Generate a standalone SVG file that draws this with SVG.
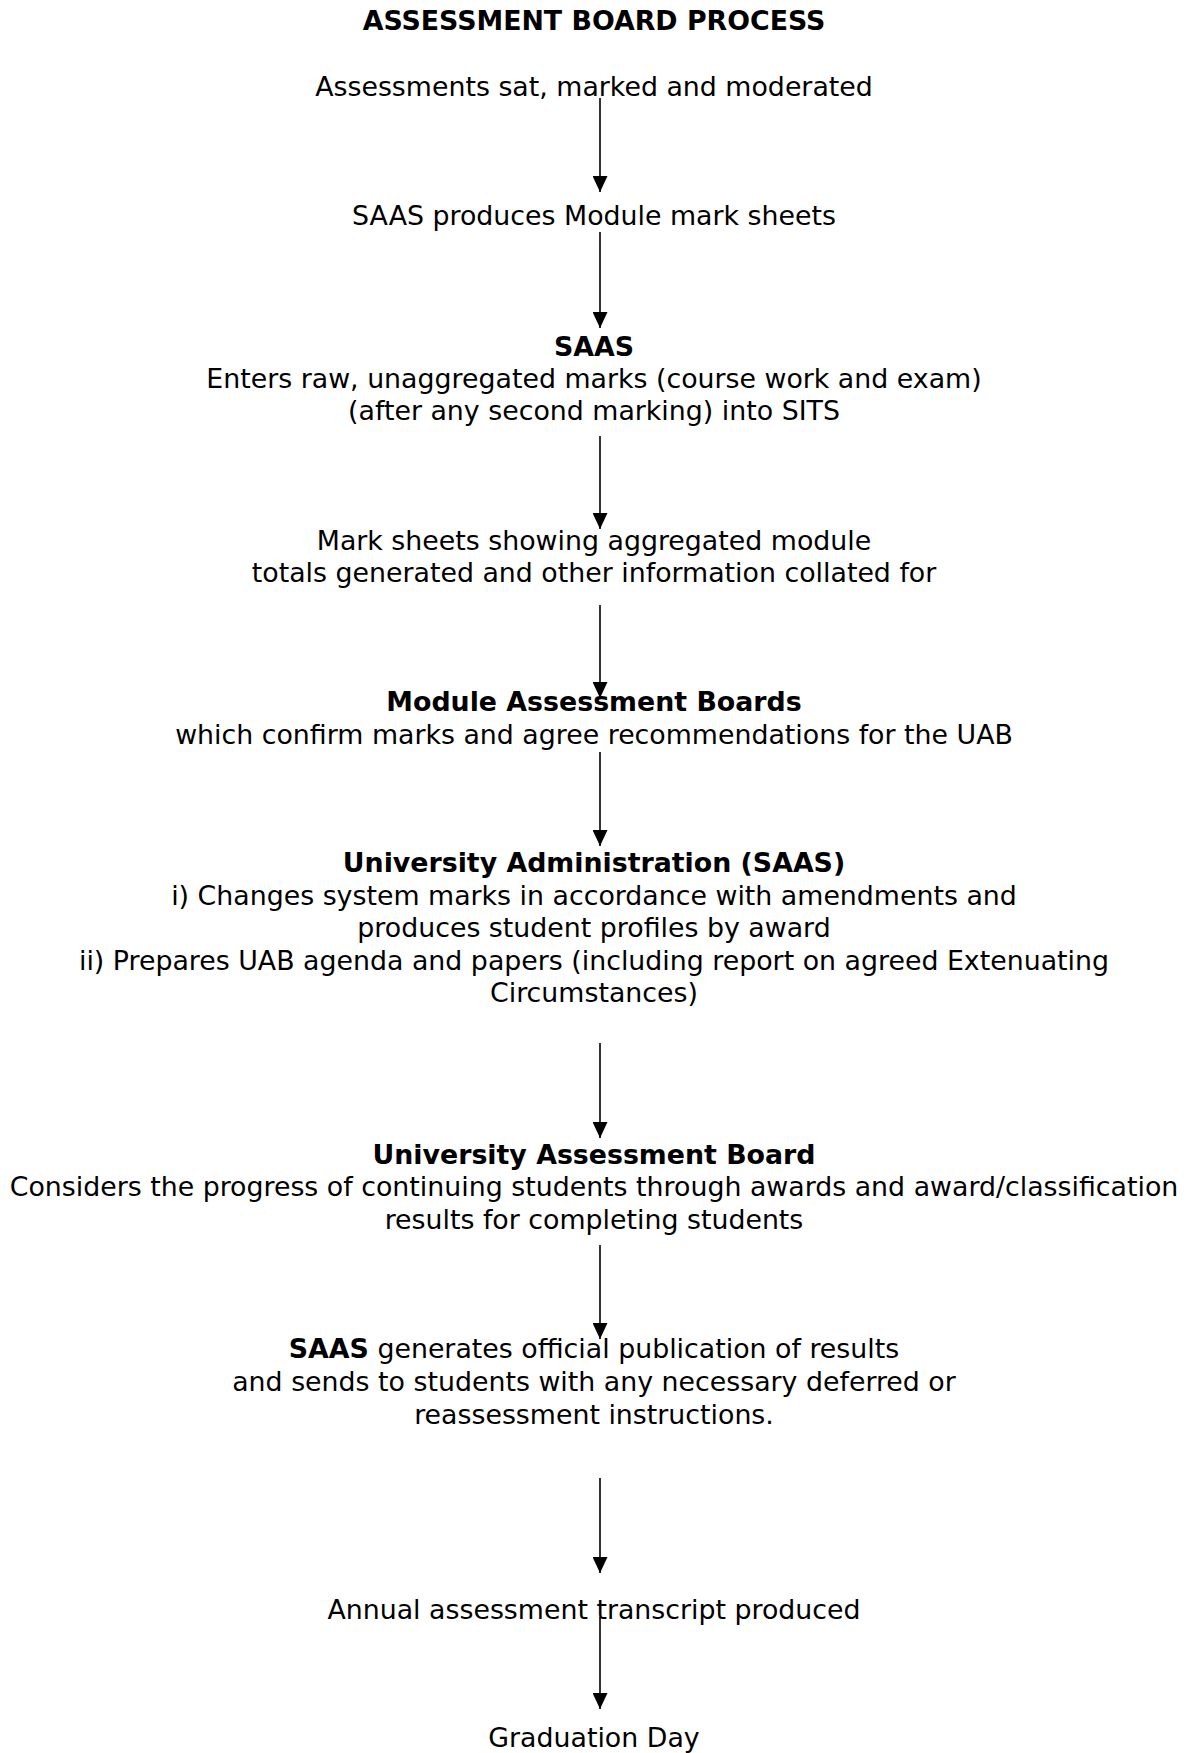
<svg xmlns="http://www.w3.org/2000/svg" width="1188" height="1753" viewBox="0 0 1188 1753">
<style>
text{font-family:"DejaVu Sans","Verdana",sans-serif;font-size:26.8px;fill:#000;text-anchor:middle}
.b{font-weight:bold}
.c{stroke:#000;stroke-width:1.6;fill:none}
</style>
<defs>
<marker id="arr" markerWidth="16" markerHeight="15" refX="16" refY="7.5" orient="auto" markerUnits="userSpaceOnUse" viewBox="0 0 16 15">
<path d="M0,0 L16,7.5 L0,15 Z" fill="#000"/>
</marker>
</defs>
<rect width="1188" height="1753" fill="#fff"/>
<g id="title"><text class="b" x="594" y="30">ASSESSMENT BOARD PROCESS</text></g>
<g id="n1"><text x="594" y="96">Assessments sat, marked and moderated</text></g>
<g id="n2"><text x="594" y="225">SAAS produces Module mark sheets</text></g>
<g id="n3"><text class="b" x="594" y="356">SAAS</text><text x="594" y="388">Enters raw, unaggregated marks (course work and exam)</text><text x="594" y="420">(after any second marking) into SITS</text></g>
<g id="n4"><text x="594" y="550">Mark sheets showing aggregated module</text><text x="594" y="582">totals generated and other information collated for</text></g>
<g id="n5"><text class="b" x="594" y="711">Module Assessment Boards</text><text x="594" y="744">which confirm marks and agree recommendations for the UAB</text></g>
<g id="n6"><text class="b" x="594" y="872">University Administration (SAAS)</text><text x="594" y="905">i) Changes system marks in accordance with amendments and</text><text x="594" y="937">produces student profiles by award</text><text x="594" y="970">ii) Prepares UAB agenda and papers (including report on agreed Extenuating</text><text x="594" y="1002">Circumstances)</text></g>
<g id="n7"><text class="b" x="594" y="1164">University Assessment Board</text><text x="594" y="1196">Considers the progress of continuing students through awards and award/classification</text><text x="594" y="1229">results for completing students</text></g>
<g id="n8"><text x="594" y="1358"><tspan class="b">SAAS</tspan> generates official publication of results</text><text x="594" y="1391">and sends to students with any necessary deferred or</text><text x="594" y="1424">reassessment instructions.</text></g>
<g id="n9"><text x="594" y="1619">Annual assessment transcript produced</text></g>
<g id="n10"><text x="594" y="1747">Graduation Day</text></g>
<g id="connectors">
<line class="c" x1="600" y1="98" x2="600" y2="192" marker-end="url(#arr)"/>
<line class="c" x1="600" y1="232" x2="600" y2="328" marker-end="url(#arr)"/>
<line class="c" x1="600" y1="436" x2="600" y2="529" marker-end="url(#arr)"/>
<line class="c" x1="600" y1="605" x2="600" y2="698" marker-end="url(#arr)"/>
<line class="c" x1="600" y1="752" x2="600" y2="846" marker-end="url(#arr)"/>
<line class="c" x1="600" y1="1043" x2="600" y2="1138" marker-end="url(#arr)"/>
<line class="c" x1="600" y1="1245" x2="600" y2="1339" marker-end="url(#arr)"/>
<line class="c" x1="600" y1="1478" x2="600" y2="1573" marker-end="url(#arr)"/>
<line class="c" x1="600" y1="1617" x2="600" y2="1709" marker-end="url(#arr)"/>
</g>
</svg>
